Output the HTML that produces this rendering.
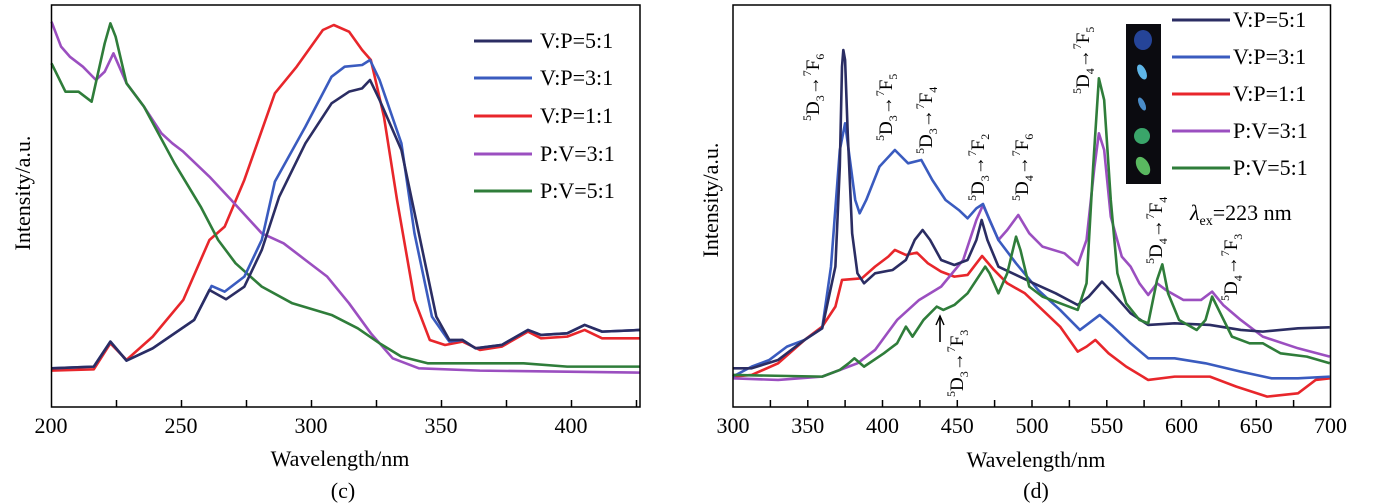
<!DOCTYPE html>
<html><head><meta charset="utf-8"><style>
body{margin:0;background:#fff}
svg{display:block;font-family:"Liberation Serif",serif}
.c{fill:none;stroke-width:2.6;stroke-linejoin:round;vector-effect:non-scaling-stroke}
</style></head><body>
<svg width="1373" height="504" viewBox="0 0 1373 504" xmlns="http://www.w3.org/2000/svg">
<!-- LEFT CHART -->
<g transform="scale(0.4363,0.3333)">
<polyline class="c" stroke="#e8262b" points="118,1112 215,1108 253,1030 290,1080 350,1010 420,900 480,720 515,680 560,540 630,280 680,200 740,90 765,75 800,95 830,150 850,180 880,350 910,600 950,900 985,1020 1020,1035 1060,1025 1100,1050 1150,1040 1210,995 1240,1015 1300,1010 1340,990 1380,1015 1467,1015"/>
<polyline class="c" stroke="#9b4fc0" points="118,65 140,140 160,170 190,200 220,240 240,215 260,160 290,250 330,320 370,400 395,430 420,455 480,530 530,600 600,700 650,730 700,780 750,830 800,910 850,1000 900,1075 960,1105 1100,1112 1467,1118"/>
<polyline class="c" stroke="#2f7d3a" points="118,190 150,275 180,275 210,305 240,130 253,70 265,110 290,250 330,320 400,490 460,620 500,720 540,790 600,860 670,910 760,945 820,985 870,1030 920,1070 980,1090 1050,1090 1200,1090 1300,1100 1467,1100"/>
<polyline class="c" stroke="#3a5bbf" points="118,1105 215,1100 253,1025 290,1082 350,1045 445,960 485,858 515,875 560,830 600,720 630,545 700,380 760,230 790,200 830,195 848,180 870,240 920,430 950,700 990,950 1030,1025 1060,1020 1090,1045 1150,1035 1210,990 1240,1005 1300,1000 1340,975 1380,995 1467,990"/>
<polyline class="c" stroke="#2b2d63" points="118,1105 215,1100 253,1025 290,1082 350,1045 445,960 480,870 518,898 560,860 600,750 640,590 700,430 760,310 800,275 830,265 848,240 870,300 920,450 960,700 1000,950 1030,1020 1060,1020 1090,1045 1150,1035 1210,990 1240,1005 1300,1000 1340,975 1380,995 1467,990"/>
</g>
<g stroke="#000" stroke-width="1.5" fill="none">
<rect x="51.5" y="5" width="588.5" height="402"/>
<path d="M116.5 407v-7M181.5 407v-7M246.5 407v-7M311.5 407v-7M376.5 407v-7M441.5 407v-7M506.5 407v-7M571.5 407v-7M636.5 407v-7"/>
</g>
<g font-size="22" text-anchor="middle">
<text x="51" y="433">200</text><text x="181" y="433">250</text><text x="311" y="433">300</text><text x="441" y="433">350</text><text x="571" y="433">400</text>
<text x="340" y="466">Wavelength/nm</text>
<text x="343" y="498">(c)</text>
<text transform="translate(30,193) rotate(-90)">Intensity/a.u.</text>
</g>
<g stroke-width="3">
<line x1="474" y1="41" x2="532" y2="41" stroke="#2b2d63"/>
<line x1="474" y1="78" x2="532" y2="78" stroke="#3a5bbf"/>
<line x1="474" y1="116" x2="532" y2="116" stroke="#e8262b"/>
<line x1="474" y1="154" x2="532" y2="154" stroke="#9b4fc0"/>
<line x1="474" y1="191" x2="532" y2="191" stroke="#2f7d3a"/>
</g>
<g font-size="22">
<text x="540" y="48">V:P=5:1</text><text x="540" y="85">V:P=3:1</text><text x="540" y="123">V:P=1:1</text><text x="540" y="161">P:V=3:1</text><text x="540" y="198">P:V=5:1</text>
</g>

<!-- RIGHT CHART -->
<g transform="translate(690,0) scale(0.4406,0.3333)">
<polyline class="c" stroke="#e8262b" points="97,1130 140,1125 200,1090 260,1020 300,980 330,920 345,840 390,835 420,800 450,770 465,750 490,765 515,758 540,790 570,815 600,830 630,825 663,768 690,810 720,850 760,880 800,930 840,980 880,1055 900,1040 920,1020 950,1060 990,1100 1040,1140 1100,1130 1180,1130 1240,1160 1310,1190 1380,1180 1420,1140 1452,1135"/>
<polyline class="c" stroke="#9b4fc0" points="97,1135 200,1140 300,1130 360,1100 380,1090 420,1050 470,960 520,900 570,860 620,780 650,660 665,615 680,660 700,720 720,690 745,645 770,700 800,740 850,760 880,795 900,720 918,500 928,400 940,450 955,650 980,770 1000,800 1020,850 1040,885 1060,850 1080,870 1120,900 1160,900 1185,875 1210,915 1250,960 1300,1010 1380,1045 1452,1070"/>
<polyline class="c" stroke="#3a5bbf" points="97,1130 140,1100 180,1080 220,1040 260,1020 300,985 320,800 340,450 352,370 360,450 375,600 385,640 400,600 430,500 465,450 495,490 525,480 550,540 580,600 610,630 630,655 650,625 665,612 680,660 700,720 740,790 790,870 840,930 885,990 905,970 930,945 960,980 1000,1030 1040,1075 1100,1075 1170,1090 1250,1115 1320,1135 1380,1135 1452,1130"/>
<polyline class="c" stroke="#2b2d63" points="97,1105 140,1105 200,1080 260,1020 300,985 330,800 340,500 345,200 348,150 352,180 358,400 368,700 380,820 395,850 420,820 460,810 490,780 510,720 528,690 545,720 570,780 600,795 630,780 650,720 662,660 675,720 700,800 740,825 780,850 830,880 880,915 905,890 935,845 960,880 1000,940 1040,975 1100,970 1180,975 1250,990 1300,995 1380,985 1452,982"/>
<polyline class="c" stroke="#2f7d3a" points="97,1125 300,1130 340,1110 360,1090 373,1075 395,1100 440,1060 470,1030 490,980 505,1010 530,960 560,920 575,930 600,915 630,880 660,820 670,800 680,820 700,880 720,820 740,710 750,750 770,860 800,890 850,915 880,930 900,850 915,500 928,235 940,300 955,600 970,820 990,910 1020,960 1040,970 1060,840 1072,793 1085,880 1110,960 1150,990 1170,960 1185,890 1200,930 1230,1010 1270,1030 1300,1030 1340,1060 1400,1070 1452,1090"/>
</g>
<g stroke="#000" stroke-width="1.5" fill="none">
<rect x="733" y="5" width="597.5" height="402"/>
<path d="M770.4 407v-7M807.8 407v-7M845.1 407v-7M882.5 407v-7M919.9 407v-7M957.3 407v-7M994.6 407v-7M1032 407v-7M1069.4 407v-7M1106.8 407v-7M1144.1 407v-7M1181.5 407v-7M1218.9 407v-7M1256.3 407v-7M1293.6 407v-7"/>
</g>
<g font-size="22" text-anchor="middle">
<text x="733" y="433">300</text><text x="807.8" y="433">350</text><text x="882.5" y="433">400</text><text x="957.3" y="433">450</text><text x="1032" y="433">500</text><text x="1106.8" y="433">550</text><text x="1181.5" y="433">600</text><text x="1256.3" y="433">650</text><text x="1330.5" y="433">700</text>
<text x="1036" y="467">Wavelength/nm</text>
<text x="1036" y="498">(d)</text>
<text transform="translate(718,200) rotate(-90)">Intensity/a.u.</text>
</g>
<rect x="1126" y="24" width="35" height="160" fill="#0b0b10"/>
<ellipse cx="1143" cy="40" rx="9" ry="10" fill="#2a4fb0" opacity="0.85"/>
<ellipse cx="1142" cy="72" rx="4" ry="8" fill="#5fb6e8" transform="rotate(-25 1142 72)"/>
<ellipse cx="1142" cy="104" rx="3" ry="7" fill="#4a8cc8" transform="rotate(-25 1142 104)"/>
<ellipse cx="1142" cy="136" rx="8" ry="8" fill="#3aa56a"/>
<ellipse cx="1143" cy="166" rx="6" ry="10" fill="#5ab860" transform="rotate(-30 1143 166)"/>
<g stroke-width="3">
<line x1="1172" y1="20" x2="1230" y2="20" stroke="#2b2d63"/>
<line x1="1172" y1="57" x2="1230" y2="57" stroke="#3a5bbf"/>
<line x1="1172" y1="94" x2="1230" y2="94" stroke="#e8262b"/>
<line x1="1172" y1="131" x2="1230" y2="131" stroke="#9b4fc0"/>
<line x1="1172" y1="168" x2="1230" y2="168" stroke="#2f7d3a"/>
</g>
<g font-size="22">
<text x="1233" y="27">V:P=5:1</text><text x="1233" y="64">V:P=3:1</text><text x="1233" y="101">V:P=1:1</text><text x="1233" y="138">P:V=3:1</text><text x="1233" y="175">P:V=5:1</text>
<text x="1190" y="220"><tspan font-style="italic">λ</tspan><tspan font-size="14" dy="5">ex</tspan><tspan dy="-5">=223 nm</tspan></text>
</g>
<g font-size="19">
<text transform="translate(819,121) rotate(-90)"><tspan font-size="12" dy="-8">5</tspan><tspan dy="8">D</tspan><tspan font-size="12" dy="5">3</tspan><tspan dy="-5">→</tspan><tspan font-size="12" dy="-8">7</tspan><tspan dy="8">F</tspan><tspan font-size="12" dy="5">6</tspan></text>
<text transform="translate(892,141) rotate(-90)"><tspan font-size="12" dy="-8">5</tspan><tspan dy="8">D</tspan><tspan font-size="12" dy="5">3</tspan><tspan dy="-5">→</tspan><tspan font-size="12" dy="-8">7</tspan><tspan dy="8">F</tspan><tspan font-size="12" dy="5">5</tspan></text>
<text transform="translate(932,154) rotate(-90)"><tspan font-size="12" dy="-8">5</tspan><tspan dy="8">D</tspan><tspan font-size="12" dy="5">3</tspan><tspan dy="-5">→</tspan><tspan font-size="12" dy="-8">7</tspan><tspan dy="8">F</tspan><tspan font-size="12" dy="5">4</tspan></text>
<text transform="translate(984,201) rotate(-90)"><tspan font-size="12" dy="-8">5</tspan><tspan dy="8">D</tspan><tspan font-size="12" dy="5">3</tspan><tspan dy="-5">→</tspan><tspan font-size="12" dy="-8">7</tspan><tspan dy="8">F</tspan><tspan font-size="12" dy="5">2</tspan></text>
<text transform="translate(1028,201) rotate(-90)"><tspan font-size="12" dy="-8">5</tspan><tspan dy="8">D</tspan><tspan font-size="12" dy="5">4</tspan><tspan dy="-5">→</tspan><tspan font-size="12" dy="-8">7</tspan><tspan dy="8">F</tspan><tspan font-size="12" dy="5">6</tspan></text>
<text transform="translate(1089,94) rotate(-90)"><tspan font-size="12" dy="-8">5</tspan><tspan dy="8">D</tspan><tspan font-size="12" dy="5">4</tspan><tspan dy="-5">→</tspan><tspan font-size="12" dy="-8">7</tspan><tspan dy="8">F</tspan><tspan font-size="12" dy="5">5</tspan></text>
<text transform="translate(1162,264) rotate(-90)"><tspan font-size="12" dy="-8">5</tspan><tspan dy="8">D</tspan><tspan font-size="12" dy="5">4</tspan><tspan dy="-5">→</tspan><tspan font-size="12" dy="-8">7</tspan><tspan dy="8">F</tspan><tspan font-size="12" dy="5">4</tspan></text>
<text transform="translate(1237,301) rotate(-90)"><tspan font-size="12" dy="-8">5</tspan><tspan dy="8">D</tspan><tspan font-size="12" dy="5">4</tspan><tspan dy="-5">→</tspan><tspan font-size="12" dy="-8">7</tspan><tspan dy="8">F</tspan><tspan font-size="12" dy="5">3</tspan></text>
<text transform="translate(963,397) rotate(-90)"><tspan font-size="12" dy="-8">5</tspan><tspan dy="8">D</tspan><tspan font-size="12" dy="5">3</tspan><tspan dy="-5">→</tspan><tspan font-size="12" dy="-8">7</tspan><tspan dy="8">F</tspan><tspan font-size="12" dy="5">3</tspan></text>
</g>
<line x1="940" y1="342" x2="940" y2="318" stroke="#000" stroke-width="1.6"/>
<path d="M936 325 L940 316 L944 325" fill="none" stroke="#000" stroke-width="1.4"/>
</svg>
</body></html>
